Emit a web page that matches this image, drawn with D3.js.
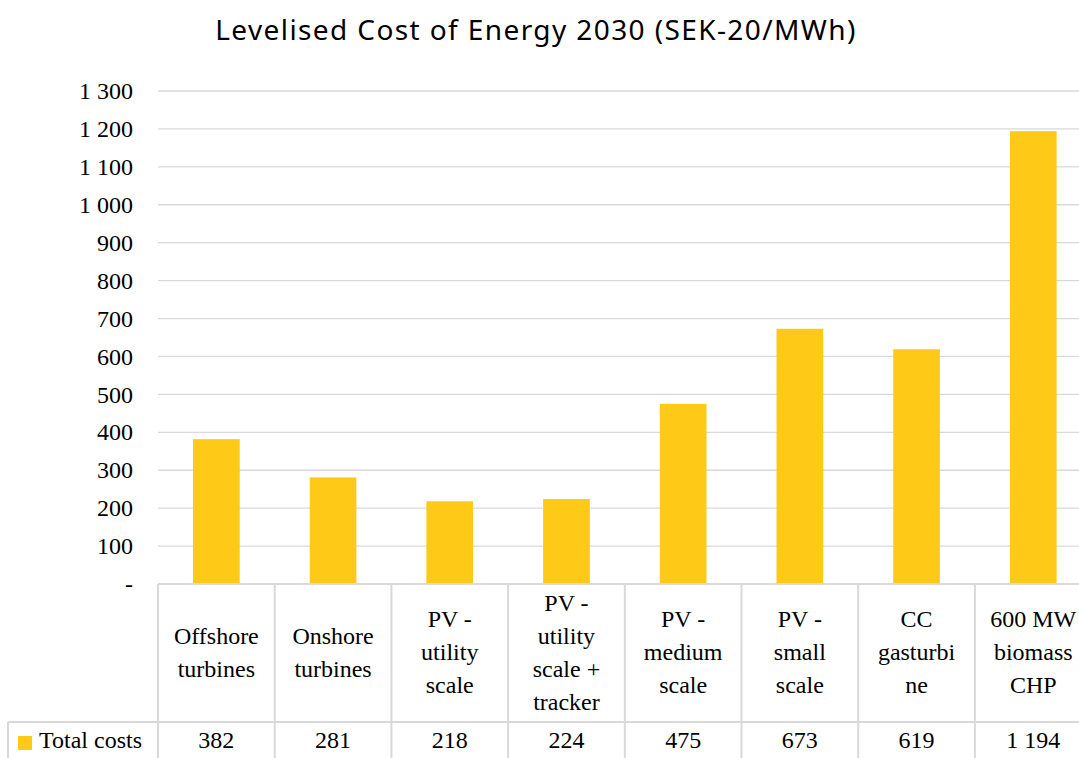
<!DOCTYPE html>
<html>
<head>
<meta charset="utf-8">
<script src="https://cdn.jsdelivr.net/npm/d3@7"></script>
<style>
  body { margin: 0; background: #fff; }
  svg { display: block; }
</style>
</head>
<body>
<div id="chart"></div>
<script>
// chart values
var categories = ["Offshore\nturbines", "Onshore\nturbines", "PV -\nutility\nscale", "PV -\nutility\nscale +\ntracker",
                  "PV -\nmedium\nscale", "PV -\nsmall\nscale", "CC\ngasturbi\nne", "600 MW\nbiomass\nCHP"];
var totalCosts = [382, 281, 218, 224, 475, 673, 619, 1194];
var yTicks = [0, 100, 200, 300, 400, 500, 600, 700, 800, 900, 1000, 1100, 1200, 1300];
var seriesName = "Total costs";
var titleText = "Levelised Cost of Energy 2030 (SEK-20/MWh)";

var W = 1079, H = 758;
var barColor = "#ffc917";
var lineColor = "#d9d9d9";
var serif = "'Liberation Serif', serif";
var fontSize = "24px";

var svg = d3.select("#chart").append("svg")
    .attr("width", W)
    .attr("height", H);

// plot area bounds
var left = 158, colW = 116.7, plotTop = 91, plotBottom = 584;
var right = left + colW * categories.length;

var locale = d3.formatLocale({decimal: ",", thousands: " ", grouping: [3], currency: ["", ""]});
var fmt = locale.format(",");
var tickFmt = function (d) { return d === 0 ? "-" : fmt(d); };

var x = d3.scaleBand()
    .domain(categories)
    .range([left, right])
    .paddingInner(0.6)
    .paddingOuter(0.3);

var y = d3.scaleLinear()
    .domain([0, 1300])
    .range([plotBottom, plotTop]);

//title
svg.append("text")
    .attr("x", 536)
    .attr("y", 40)
    .attr("text-anchor", "middle")
    .style("font-family", "'Noto Sans', sans-serif")
    .style("font-size", "28px")
    .style("letter-spacing", "1.4px")
    .attr("fill", "#000")
    .text(titleText);

//gridlines
svg.append("g")
    .selectAll("line")
    .data(yTicks.filter(function (d) { return d > 0; }))
    .enter().append("line")
        .attr("x1", left)
        .attr("x2", right)
        .attr("y1", function (d) { return y(d); })
        .attr("y2", function (d) { return y(d); })
        .attr("stroke", lineColor)
        .attr("stroke-width", 1.3);

//y axis labels
var yAxis = d3.axisLeft(y).tickValues(yTicks).tickFormat(tickFmt).tickSize(0).tickPadding(25);
var gy = svg.append("g")
    .attr("transform", "translate(" + left + ",0)")
    .call(yAxis);
gy.select(".domain").remove();
gy.selectAll("text")
    .style("font-family", serif)
    .style("font-size", fontSize)
    .attr("fill", "#000");

//bars
svg.append("g")
    .selectAll("rect")
    .data(totalCosts)
    .enter().append("rect")
        .attr("x", function (d, i) { return x(categories[i]); })
        .attr("y", function (d) { return y(d); })
        .attr("width", x.bandwidth())
        .attr("height", function (d) { return y(0) - y(d); })
        .attr("fill", barColor);

// data table under the chart
var rowSplit = 722, tableBottom = 770, tableLeft = 8;
var t = svg.append("g");

// horizontal lines
t.append("line").attr("x1", left).attr("x2", right).attr("y1", plotBottom).attr("y2", plotBottom);
t.append("line").attr("x1", tableLeft).attr("x2", right).attr("y1", rowSplit).attr("y2", rowSplit);
// vertical lines
t.append("line").attr("x1", tableLeft).attr("x2", tableLeft).attr("y1", rowSplit).attr("y2", tableBottom);
t.selectAll(".vline")
    .data(d3.range(categories.length + 1))
    .enter().append("line")
        .attr("class", "vline")
        .attr("x1", function (i) { return left + i * colW; })
        .attr("x2", function (i) { return left + i * colW; })
        .attr("y1", plotBottom)
        .attr("y2", tableBottom);
t.selectAll("line")
    .attr("stroke", lineColor)
    .attr("stroke-width", 2);

// category labels
var lineH = 33;
var cellMid = (plotBottom + rowSplit) / 2;
categories.forEach(function (c, i) {
    var lines = c.split("\n");
    var cx = x(c) + x.bandwidth() / 2;
    var firstBase = cellMid + 7 - (lines.length - 1) * lineH / 2;
    var txt = t.append("text")
        .attr("text-anchor", "middle")
        .style("font-family", serif)
        .style("font-size", fontSize)
        .attr("fill", "#000");
    lines.forEach(function (l, j) {
        txt.append("tspan")
            .attr("x", cx)
            .attr("y", firstBase + j * lineH)
            .text(l);
    });
});

// value row
t.selectAll(".val")
    .data(totalCosts)
    .enter().append("text")
        .attr("class", "val")
        .attr("x", function (d, i) { return x(categories[i]) + x.bandwidth() / 2; })
        .attr("y", 748)
        .attr("text-anchor", "middle")
        .style("font-family", serif)
        .style("font-size", fontSize)
        .attr("fill", "#000")
        .text(function (d) { return fmt(d); });

// legend key in the table
t.append("rect")
    .attr("x", 18).attr("y", 736)
    .attr("width", 14).attr("height", 14)
    .attr("fill", barColor);
t.append("text")
    .attr("x", 39).attr("y", 748)
    .style("font-family", serif)
    .style("font-size", fontSize)
    .attr("fill", "#000")
    .text(seriesName);
</script>
</body>
</html>
